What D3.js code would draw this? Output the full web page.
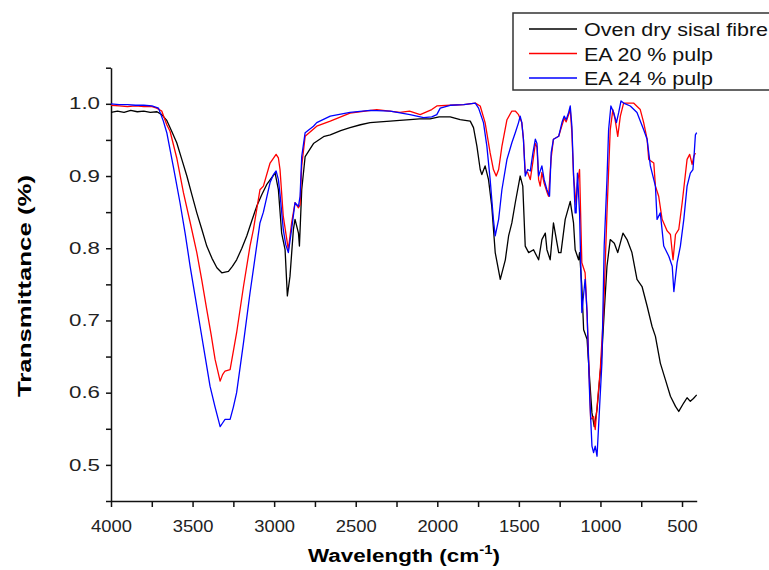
<!DOCTYPE html>
<html>
<head>
<meta charset="utf-8">
<script src="https://cdn.jsdelivr.net/npm/d3@7"></script>
<style>
  body { margin: 0; background: #fff; }
  svg { display: block; font-family: "Liberation Sans", Arial, sans-serif; }
</style>
</head>
<body>
<div id="chart"></div>
<script>
// Oven dry sisal fibre
const wnBlack = [4000,3960,3920,3879,3839,3799,3759,3718,3689,3658,3628,3597,3566,3535,3504,3474,3443,3413,3381,3351,3321,3301,3280,3256,3230,3198,3168,3137,3107,3076,3046,3014,2994,2974,2954,2933,2919,2903,2882,2872,2851,2845,2831,2810,2759,2693,2656,2592,2535,2471,2412,2351,2289,2230,2167,2109,2044,1989,1921,1860,1798,1778,1757,1737,1727,1707,1686,1666,1645,1614,1583,1563,1543,1522,1492,1476,1461,1440,1410,1379,1359,1338,1328,1308,1288,1256,1242,1216,1185,1165,1155,1134,1128,1114,1103,1082,1066,1052,1038,1021,1005,991,977,960,940,915,894,862,837,807,776,745,714,684,663,633,602,571,540,520,489,469,449,430,410];
const tBlack = [0.988,0.990,0.988,0.991,0.989,0.990,0.988,0.989,0.985,0.977,0.962,0.946,0.923,0.900,0.874,0.849,0.826,0.803,0.786,0.773,0.766,0.767,0.768,0.775,0.784,0.800,0.817,0.838,0.858,0.874,0.888,0.898,0.904,0.881,0.821,0.798,0.734,0.761,0.826,0.840,0.821,0.803,0.881,0.927,0.945,0.955,0.957,0.963,0.967,0.971,0.974,0.975,0.976,0.977,0.978,0.979,0.979,0.982,0.982,0.978,0.976,0.967,0.941,0.909,0.902,0.914,0.895,0.858,0.794,0.757,0.784,0.817,0.835,0.863,0.900,0.886,0.803,0.794,0.798,0.784,0.812,0.821,0.798,0.784,0.835,0.794,0.794,0.840,0.865,0.835,0.798,0.784,0.794,0.747,0.687,0.674,0.618,0.572,0.553,0.577,0.618,0.655,0.711,0.775,0.812,0.807,0.794,0.821,0.812,0.794,0.757,0.747,0.720,0.692,0.678,0.641,0.618,0.595,0.581,0.574,0.586,0.593,0.588,0.592,0.597];

// EA 20 % pulp
const wnRed = [4000,3950,3899,3849,3799,3749,3720,3689,3658,3638,3597,3556,3515,3474,3443,3413,3386,3362,3331,3316,3301,3270,3230,3188,3148,3127,3087,3066,3025,2988,2974,2964,2944,2913,2893,2872,2851,2841,2831,2810,2739,2656,2535,2371,2228,2170,2105,2034,2003,1921,1838,1767,1737,1707,1676,1656,1639,1624,1604,1573,1543,1522,1502,1482,1472,1461,1446,1430,1414,1399,1389,1379,1369,1359,1345,1328,1318,1302,1288,1256,1236,1222,1210,1195,1185,1175,1165,1149,1141,1128,1114,1094,1082,1060,1042,1032,1017,1001,981,960,940,924,910,894,878,858,797,756,735,714,704,673,663,643,622,591,571,555,540,520,499,469,453,438,428,418];
const tRed = [0.998,0.997,0.996,0.997,0.996,0.996,0.994,0.990,0.971,0.962,0.925,0.877,0.836,0.794,0.755,0.715,0.680,0.646,0.616,0.625,0.630,0.632,0.683,0.747,0.803,0.826,0.881,0.886,0.918,0.930,0.925,0.909,0.844,0.798,0.835,0.863,0.856,0.860,0.914,0.955,0.969,0.976,0.987,0.992,0.988,0.990,0.985,0.992,0.997,0.998,0.999,1.001,0.997,0.974,0.932,0.909,0.900,0.909,0.941,0.978,0.990,0.990,0.985,0.974,0.951,0.905,0.905,0.895,0.920,0.945,0.940,0.895,0.886,0.905,0.890,0.878,0.872,0.925,0.951,0.955,0.970,0.980,0.975,0.985,0.992,0.960,0.900,0.860,0.890,0.909,0.780,0.766,0.710,0.563,0.567,0.549,0.590,0.632,0.711,0.849,0.964,0.992,0.978,0.955,0.983,1.001,1.001,0.992,0.974,0.951,0.923,0.918,0.886,0.872,0.840,0.824,0.819,0.784,0.819,0.826,0.863,0.923,0.930,0.916,0.927,0.932];

// EA 24 % pulp
const wnBlue = [4000,3950,3899,3849,3799,3749,3709,3679,3658,3618,3577,3545,3515,3484,3454,3423,3393,3362,3331,3316,3301,3270,3250,3230,3188,3148,3087,3066,3025,3004,2988,2974,2964,2944,2929,2913,2903,2893,2872,2851,2841,2831,2810,2759,2739,2656,2535,2412,2289,2167,2084,2034,2003,1982,1921,1838,1767,1747,1717,1696,1676,1656,1645,1624,1604,1573,1543,1522,1502,1492,1482,1472,1461,1446,1430,1414,1399,1389,1379,1359,1345,1328,1312,1302,1288,1256,1236,1222,1210,1195,1185,1175,1165,1155,1149,1141,1128,1114,1094,1082,1066,1052,1042,1032,1021,1005,991,977,960,950,936,919,902,888,874,858,817,776,735,714,694,663,653,633,612,581,560,550,530,510,489,469,449,433,425,418,410];
const tBlue = [1.000,0.999,0.999,0.998,0.998,0.997,0.994,0.976,0.960,0.913,0.863,0.820,0.775,0.733,0.692,0.650,0.609,0.580,0.553,0.558,0.563,0.563,0.580,0.600,0.669,0.738,0.835,0.850,0.891,0.902,0.907,0.895,0.875,0.826,0.805,0.794,0.810,0.826,0.863,0.858,0.872,0.927,0.960,0.969,0.974,0.983,0.988,0.991,0.990,0.985,0.981,0.982,0.985,0.994,0.998,0.999,1.001,0.994,0.974,0.941,0.895,0.840,0.817,0.840,0.881,0.923,0.946,0.960,0.974,0.983,0.974,0.951,0.900,0.909,0.907,0.932,0.951,0.945,0.900,0.914,0.895,0.881,0.872,0.932,0.951,0.955,0.974,0.983,0.978,0.988,0.997,0.969,0.904,0.849,0.849,0.904,0.849,0.711,0.757,0.711,0.595,0.526,0.517,0.526,0.512,0.581,0.641,0.803,0.895,0.964,0.997,0.988,0.974,0.988,1.004,1.001,0.997,0.988,0.964,0.951,0.914,0.886,0.840,0.849,0.803,0.789,0.775,0.740,0.780,0.803,0.840,0.886,0.904,0.909,0.932,0.957,0.960];

const seriesNames = ["Oven dry sisal fibre", "EA 20 % pulp", "EA 24 % pulp"];
const seriesColors = ["#000000", "#ff0000", "#0000ff"];
const xTicks = d3.range(4000, 409, -250);
const yTicks = d3.range(0.45, 1.051, 0.05);

const width = 769, height = 570;

const svg = d3.select("#chart")
    .append("svg")
    .attr("width", width)
    .attr("height", height);

svg.append("rect").attr("width", width).attr("height", height).attr("fill", "#fff");

const x = d3.scaleLinear().domain([4000, 410]).range([111, 696.7]);
const y = d3.scaleLinear().domain([0.45, 1.05]).range([501, 67.7]);

// x axis
const gx = svg.append("g")
    .attr("transform", `translate(0,${y(0.45)})`)
    .call(d3.axisBottom(x)
        .tickValues(xTicks)
        .tickSize(6)
        .tickSizeOuter(0)
        .tickFormat(d => d % 500 === 0 ? d : ""));
gx.select(".domain").attr("stroke", "#111").attr("stroke-width", 1.5);
gx.selectAll(".tick line").attr("stroke", "#111").attr("stroke-width", 1.5);
gx.selectAll(".tick text")
    .filter(d => d % 500 === 0)
    .attr("y", 20)
    .attr("font-size", 16)
    .attr("fill", "#222")
    .attr("textLength", d => String(d).length * 10.2)
    .attr("lengthAdjust", "spacingAndGlyphs");

// y axis
const gy = svg.append("g")
    .attr("transform", `translate(${x(4000)},0)`)
    .call(d3.axisLeft(y)
        .tickValues(yTicks)
        .tickSize(5)
        .tickSizeOuter(0)
        .tickFormat(d => Math.round(d * 100) % 10 === 0 ? d3.format(".1f")(d) : ""));
gy.select(".domain").attr("stroke", "#111").attr("stroke-width", 1.5);
gy.selectAll(".tick line").attr("stroke", "#111").attr("stroke-width", 1.5);
gy.selectAll(".tick text")
    .filter(d => Math.round(d * 100) % 10 === 0)
    .attr("x", -11)
    .attr("font-size", 16)
    .attr("fill", "#222")
    .attr("textLength", 31)
    .attr("lengthAdjust", "spacingAndGlyphs");

// spectra
const series = [
    {wn: wnBlack, t: tBlack},
    {wn: wnRed, t: tRed},
    {wn: wnBlue, t: tBlue}
];
const line = d3.line().x(d => x(d[0])).y(d => y(d[1]));
series.forEach((s, i) => {
    svg.append("path")
        .datum(d3.zip(s.wn, s.t))
        .attr("fill", "none")
        .attr("stroke", seriesColors[i])
        .attr("stroke-width", 1.3)
        .attr("stroke-linejoin", "round")
        .attr("d", line);
});

// axis titles
const xt = svg.append("text")
    .attr("x", 308)
    .attr("y", 562)
    .attr("font-size", 18)
    .attr("font-weight", "bold")
    .attr("textLength", 192)
    .attr("lengthAdjust", "spacingAndGlyphs");
xt.append("tspan").text("Wavelength (cm");
xt.append("tspan").attr("font-size", 12).attr("dy", -8).text("-1");
xt.append("tspan").attr("dy", 8).text(")");

svg.append("text")
    .attr("transform", "translate(31,286) rotate(-90)")
    .attr("text-anchor", "middle")
    .attr("font-size", 18)
    .attr("font-weight", "bold")
    .attr("textLength", 222)
    .attr("lengthAdjust", "spacingAndGlyphs")
    .text("Transmittance (%)");

// legend
const legend = svg.append("g");
legend.append("rect")
    .attr("x", 513).attr("y", 13)
    .attr("width", 270).attr("height", 77)
    .attr("fill", "#fff")
    .attr("stroke", "#333")
    .attr("stroke-width", 1.5);
const legendWidths = [184, 129, 129];
seriesNames.forEach((name, i) => {
    const yy = 29 + i * 24.5;
    legend.append("line")
        .attr("x1", 529).attr("x2", 577)
        .attr("y1", yy).attr("y2", yy)
        .attr("stroke", seriesColors[i])
        .attr("stroke-width", 1.3);
    legend.append("text")
        .attr("x", 584)
        .attr("y", yy + 7)
        .attr("font-size", 18)
        .attr("fill", "#111")
        .attr("textLength", legendWidths[i])
        .attr("lengthAdjust", "spacingAndGlyphs")
        .text(name);
});
</script>
</body>
</html>
